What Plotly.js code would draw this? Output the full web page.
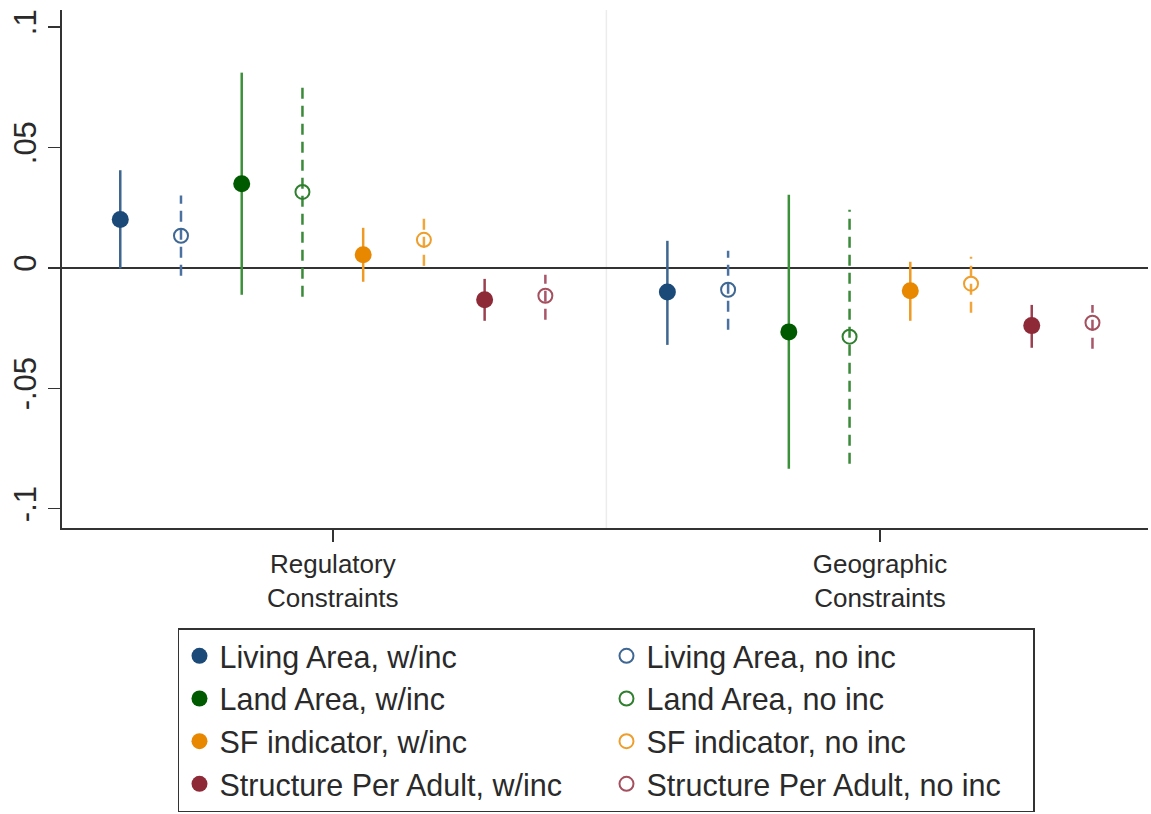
<!DOCTYPE html>
<html><head><meta charset="utf-8">
<script src="https://cdn.plot.ly/plotly-3.0.1.min.js"></script>
<style>html,body{margin:0;padding:0;background:#fff}</style>
</head><body><div id="chart" style="width:1151px;height:814px"></div>
<script>
// Categories on the x axis
const categories = ['Regulatory<br>Constraints', 'Geographic<br>Constraints'];
// Series (in plotting order)
const seriesNames = [
  'Living Area, w/inc', 'Living Area, no inc',
  'Land Area, w/inc', 'Land Area, no inc',
  'SF indicator, w/inc', 'SF indicator, no inc',
  'Structure Per Adult, w/inc', 'Structure Per Adult, no inc'
];
// Point estimates and confidence bounds, Regulatory Constraints
const estRegulatory = [0.0200, 0.0133, 0.0349, 0.0315, 0.0054, 0.0116, -0.0133, -0.0116];
const loRegulatory  = [-0.0003, -0.0033, -0.0112, -0.0120, -0.0058, 0.0008, -0.0220, -0.0216];
const hiRegulatory  = [0.0405, 0.0300, 0.0810, 0.0760, 0.0166, 0.0232, -0.0046, -0.0029];
// Point estimates and confidence bounds, Geographic Constraints
const estGeographic = [-0.0100, -0.0091, -0.0266, -0.0286, -0.0095, -0.0066, -0.0240, -0.0228];
const loGeographic  = [-0.0320, -0.0257, -0.0834, -0.0813, -0.0220, -0.0187, -0.0332, -0.0336];
const hiGeographic  = [0.0112, 0.0071, 0.0303, 0.0241, 0.0025, 0.0046, -0.0154, -0.0154];
// Y tick labels
const yTickVals = [-0.1, -0.05, 0, 0.05, 0.1];
const yTickText = ['-.1', '-.05', '0', '.05', '.1'];

// styles
const markerColors = ['#1b4a78', '#3f6793', '#005a00', '#2f7f2f', '#e88700', '#ee9e2c', '#8e2a38', '#a4505e'];
const lineColors   = ['#3e6690', '#4b71a0', '#3a913a', '#3a8a3a', '#ee9a24', '#f0a63a', '#9a4050', '#a8566a'];
const filled = [true, false, true, false, true, false, true, false];

const traces = [];
seriesNames.forEach((name, i) => {
  const og = 'g' + i;
  traces.push({
    type: 'scatter', mode: 'lines', offsetgroup: og, showlegend: false, hoverinfo: 'skip',
    x: [categories[0], categories[0], null, categories[1], categories[1]],
    y: [loRegulatory[i], hiRegulatory[i], null, loGeographic[i], hiGeographic[i]],
    line: { color: lineColors[i], width: 2.5, dash: filled[i] ? 'solid' : '11px,7px' },
    connectgaps: false
  });
  traces.push({
    type: 'scatter', mode: 'markers', offsetgroup: og, name: name,
    x: [categories[0], categories[1]],
    y: [estRegulatory[i], estGeographic[i]],
    marker: filled[i]
      ? { symbol: 'circle', size: 17, color: markerColors[i], line: { width: 0 } }
      : { symbol: 'circle-open', size: 14, color: markerColors[i], line: { width: 2, color: markerColors[i] } }
  });
});

const layout = {
  width: 1151, height: 814,
  margin: { l: 62, r: 3, t: 10, b: 285, pad: 0 },
  paper_bgcolor: '#fff', plot_bgcolor: '#fff',
  font: { family: 'Liberation Sans, Arial, sans-serif', color: '#2a2a2a' },
  scattermode: 'group', scattergap: 0.112,
  showlegend: true,
  xaxis: {
    type: 'category', range: [-0.495, 1.49], showgrid: false, zeroline: false,
    showline: true, linecolor: '#333', linewidth: 2,
    ticks: 'outside', ticklen: 12, tickwidth: 1.5, tickcolor: '#333',
    tickfont: { size: 26, color: '#2a2a2a' }
  },
  yaxis: {
    range: [-0.108, 0.107], tickmode: 'array', tickvals: yTickVals, ticktext: yTickText,
    tickangle: -90, showgrid: false,
    zeroline: true, zerolinecolor: '#333', zerolinewidth: 2,
    showline: true, linecolor: '#333', linewidth: 2,
    ticks: 'outside', ticklen: 12, tickwidth: 1.5, tickcolor: '#333',
    tickfont: { size: 31, color: '#2a2a2a' }
  },
  shapes: [{ type: 'line', xref: 'x', yref: 'paper', x0: 0.5, x1: 0.5, y0: 0, y1: 1,
             line: { color: '#ececec', width: 1.5 }, layer: 'below' }],
  legend: {
    orientation: 'h', x: 0.1068, xanchor: 'left', y: -0.1908, yanchor: 'top',
    entrywidth: 382, borderwidth: 1.5, bordercolor: '#333', bgcolor: '#fff',
    font: { size: 30.5, color: '#2a2a2a' }, traceorder: 'normal'
  }
};

Plotly.newPlot('chart', traces, layout, { displayModeBar: false, staticPlot: true });
</script></body></html>
